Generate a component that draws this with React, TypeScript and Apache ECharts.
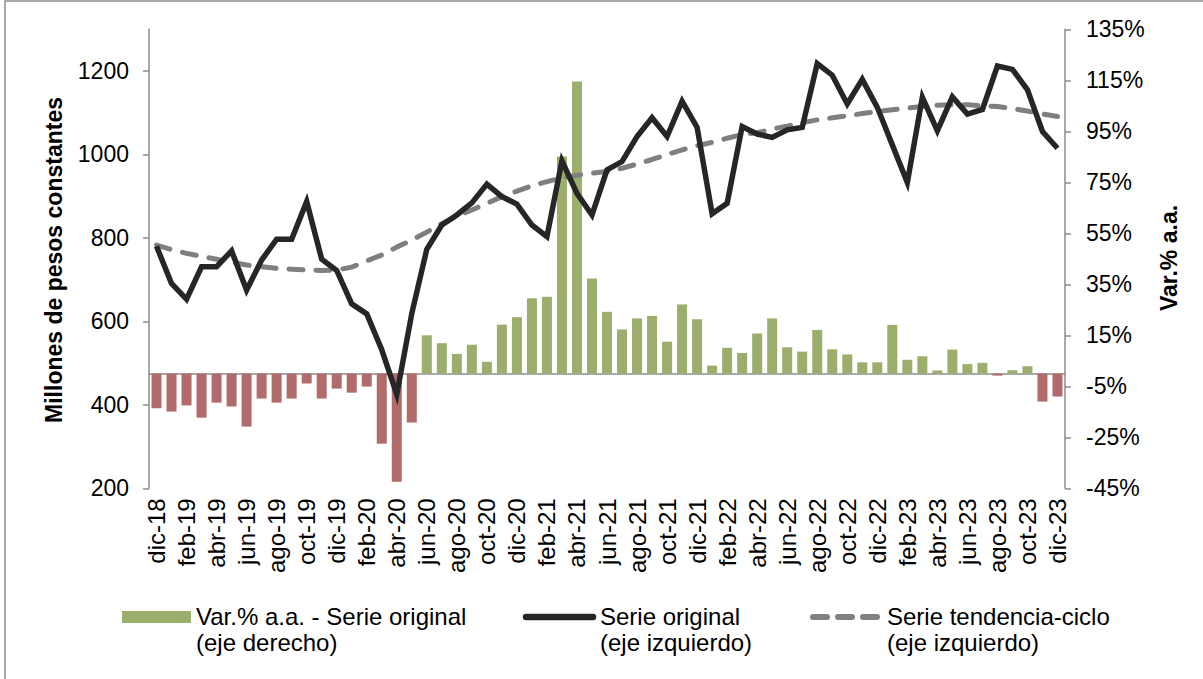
import React, { useEffect, useRef } from "react";
import * as echarts from "echarts";

const months = ["ene", "feb", "mar", "abr", "may", "jun", "jul", "ago", "sep", "oct", "nov", "dic"];
const categories: string[] = ["dic-18"];
for (let y = 19; y <= 23; y++) for (const m of months) categories.push(`${m}-${y}`);

const varPct = [
  -13.6, -14.9, -12.5, -17.3, -11.4, -12.9, -20.8, -9.8, -11.4, -9.8, -3.9, -9.8, -5.9,
  -7.5, -5.1, -27.5, -42.4, -19.2, 15.0, 11.9, 7.7, 11.3, 4.6, 19.2, 22.1,
  29.5, 30.1, 85.1, 114.5, 37.3, 24.2, 17.3, 21.6, 22.6, 12.5, 27.1, 21.3,
  3.1, 10.1, 8.1, 15.7, 21.6, 10.3, 8.6, 17.1, 9.5, 7.5, 4.4, 4.4, 19.1,
  5.4, 6.8, 1.2, 9.4, 3.7, 4.2, -0.8, 1.3, 2.9, -11.0, -9.0,
];

const serieOriginal = [
  780, 691, 653, 731, 731, 769, 675, 747, 797, 797, 887, 749, 722,
  642, 618, 532, 425, 619, 773, 831, 855, 884, 929, 899, 881,
  831, 803, 985, 907, 855, 963, 983, 1043, 1088, 1043, 1128, 1065,
  858, 883, 1067, 1049, 1041, 1059, 1065, 1218, 1190, 1121, 1180, 1113, 1023,
  933, 1137, 1057, 1138, 1097, 1108, 1212, 1204, 1155, 1055, 1015,
];

const serieTendencia = [
  783, 772, 763, 756, 749, 742, 735, 731, 727, 725, 723, 722, 723,
  730, 745, 759, 778, 795, 814, 834, 852, 867, 883, 899, 912,
  925, 935, 944, 950, 955, 959, 967, 977, 988, 1000, 1011, 1021,
  1029, 1039, 1048, 1052, 1061, 1068, 1076, 1083, 1088, 1093, 1098, 1103, 1107,
  1111, 1115, 1118, 1119, 1119, 1117, 1115, 1110, 1104, 1097, 1091,
];

const leftTicks = [200, 400, 600, 800, 1000, 1200];

const FONT = "'Liberation Sans', Arial, sans-serif";
const GREEN = "#9bae6c";
const RED = "#b06b6a";
const AXIS = "#8c8c8c";

export default function App() {
  const ref = useRef<HTMLDivElement>(null);
  useEffect(() => {
    if (!ref.current) return;
    const chart = echarts.init(ref.current, null, { renderer: "svg" });
    const txt = (text: string, x: number, y: number, extra: any = {}) => ({
      type: "text",
      x,
      y,
      style: { text, fill: "#000", font: `24px ${FONT}`, verticalAlign: "middle", align: "left", ...extra },
    });
    chart.setOption({
      animation: false,
      backgroundColor: "#fff",
      grid: { left: 149, right: 138, top: 29.3, bottom: 190.7, containLabel: false },
      xAxis: {
        type: "category",
        data: categories,
        boundaryGap: true,
        axisLine: { lineStyle: { color: AXIS, width: 1.5 } },
        axisTick: { interval: 1, length: 6, lineStyle: { color: AXIS, width: 1.5 } },
        axisLabel: { interval: 1, rotate: 90, margin: 10, fontSize: 24, color: "#000", fontFamily: FONT },
        splitLine: { show: false },
      },
      yAxis: [
        {
          type: "value",
          min: 200,
          max: 1300,
          interval: 100,
          position: "left",
          axisLine: { show: true, lineStyle: { color: AXIS, width: 1.5 } },
          axisTick: { show: true, length: 6, customValues: leftTicks, lineStyle: { color: AXIS, width: 1.5 } },
          axisLabel: {
            customValues: leftTicks,
            formatter: (v: number) => String(v),
            margin: 20,
            fontSize: 23,
            color: "#000",
            fontFamily: FONT,
          },
          splitLine: { show: false },
        },
        {
          type: "value",
          min: -45,
          max: 135,
          interval: 20,
          position: "right",
          axisLine: { show: true, lineStyle: { color: AXIS, width: 1.5 } },
          axisTick: { show: true, length: 6, lineStyle: { color: AXIS, width: 1.5 } },
          axisLabel: { formatter: "{value}%", margin: 21, fontSize: 23, color: "#000", fontFamily: FONT },
          splitLine: { show: false },
        },
      ],
      series: [
        {
          name: "Var.% a.a. - Serie original",
          type: "bar",
          yAxisIndex: 1,
          barWidth: 10,
          data: varPct,
          itemStyle: { color: (p: any) => (p.value >= 0 ? GREEN : RED) },
          z: 1,
        },
        {
          name: "Serie original",
          type: "line",
          yAxisIndex: 0,
          data: serieOriginal,
          symbol: "none",
          lineStyle: { color: "#262626", width: 5.5, join: "miter" },
          z: 3,
        },
        {
          name: "Serie tendencia-ciclo",
          type: "line",
          yAxisIndex: 0,
          data: serieTendencia,
          symbol: "none",
          lineStyle: { color: "#7f7f7f", width: 5, type: [14, 13], cap: "round" },
          z: 2,
        },
      ],
      graphic: [
        {
          type: "rect",
          shape: { x: 5, y: 1, width: 1400, height: 900 },
          style: { fill: "none", stroke: AXIS, lineWidth: 1.5 },
          silent: true,
        },
        {
          type: "text",
          x: 54,
          y: 260,
          rotation: Math.PI / 2,
          style: { text: "Millones de pesos constantes", fill: "#000", font: `bold 23px ${FONT}`, align: "center", verticalAlign: "middle" },
        },
        {
          type: "text",
          x: 1169,
          y: 258,
          rotation: Math.PI / 2,
          style: { text: "Var.% a.a.", fill: "#000", font: `bold 23px ${FONT}`, align: "center", verticalAlign: "middle" },
        },
        { type: "rect", shape: { x: 122, y: 611, width: 69, height: 12 }, style: { fill: GREEN } },
        txt("Var.% a.a. - Serie original", 196, 616),
        txt("(eje derecho)", 196, 642),
        {
          type: "line",
          shape: { x1: 526, y1: 617, x2: 593, y2: 617 },
          style: { stroke: "#262626", lineWidth: 6.5, lineCap: "round" },
        },
        txt("Serie original", 600, 616),
        txt("(eje izquierdo)", 600, 642),
        {
          type: "line",
          shape: { x1: 813, y1: 617, x2: 880, y2: 617 },
          style: { stroke: "#808080", lineWidth: 6, lineCap: "round", lineDash: [14, 11] },
        },
        txt("Serie tendencia-ciclo", 887, 616),
        txt("(eje izquierdo)", 887, 642),
      ],
    });
    return () => chart.dispose();
  }, []);
  return <div ref={ref} style={{ position: "fixed", left: 0, top: 0, width: 1203, height: 679 }} />;
}
